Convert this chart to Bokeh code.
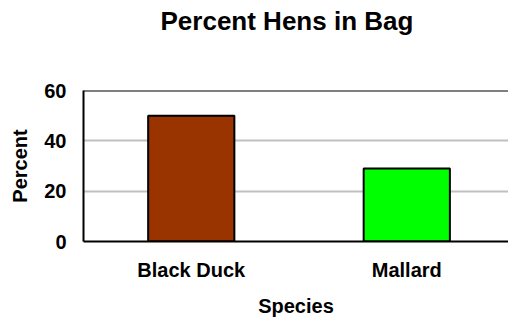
from bokeh.plotting import figure
from bokeh.models import Range1d, FixedTicker, Span, Title
from bokeh.embed import file_html
from bokeh.resources import INLINE

# Percent of hens in the bag, by species
species = ["Black Duck", "Mallard"]
percent_hens = [50, 29]
bar_colors = ["#993300", "#00FF00"]
y_ticks = [0, 20, 40, 60]

FONT = "Liberation Sans"

x_pos = [i + 0.5 for i in range(len(species))]

p = figure(
    width=508, height=322,
    x_range=Range1d(0, 1.972), y_range=Range1d(0, 60),
    output_backend="svg", toolbar_location=None, title=None,
    min_border_left=83, min_border_right=0,
    min_border_top=90, min_border_bottom=81,
)

p.vbar(x=x_pos, top=percent_hens, width=0.4, bottom=0,
       fill_color=bar_colors, line_color="black", line_width=2)

# blank gap between the frame and the title, then the title itself
p.add_layout(Title(text=" ", text_font_size="1px", standoff=45), "above")
p.add_layout(Title(
    text="Percent Hens in Bag", text_font=FONT, text_font_size="26px",
    text_font_style="bold", text_color="black",
    align="left", offset=77, vertical_align="top", standoff=10,
), "above")

# frame: top and left borders drawn, right edge runs off the page
p.outline_line_color = None
p.add_layout(Span(location=60, dimension="width", line_color="black", line_width=2))

# y axis
p.yaxis.ticker = FixedTicker(ticks=y_ticks)
p.yaxis.axis_label = "Percent"
p.yaxis.axis_line_color = "black"
p.yaxis.axis_line_width = 2
p.yaxis.major_tick_line_color = None
p.yaxis.minor_tick_line_color = None
p.yaxis.major_label_standoff = 11
p.yaxis.axis_label_standoff = 10

# x axis
p.xaxis.ticker = FixedTicker(ticks=x_pos)
p.xaxis.major_label_overrides = {x: s for x, s in zip(x_pos, species)}
p.xaxis.axis_label = "Species"
p.xaxis.axis_line_color = "black"
p.xaxis.axis_line_width = 2
p.xaxis.major_tick_line_color = None
p.xaxis.minor_tick_line_color = None
p.xaxis.major_label_standoff = 11
p.xaxis.axis_label_standoff = 11

for ax in (p.xaxis, p.yaxis):
    ax.major_label_text_font = FONT
    ax.major_label_text_font_size = "20px"
    ax.major_label_text_font_style = "bold"
    ax.major_label_text_color = "black"
    ax.axis_label_text_font = FONT
    ax.axis_label_text_font_size = "20px"
    ax.axis_label_text_font_style = "bold"
    ax.axis_label_text_color = "black"

# grid
p.xgrid.grid_line_color = None
p.ygrid.ticker = FixedTicker(ticks=[20, 40])
p.ygrid.grid_line_color = "#C0C0C0"
p.ygrid.grid_line_width = 2

open("out.html", "w").write(file_html(p, INLINE))
